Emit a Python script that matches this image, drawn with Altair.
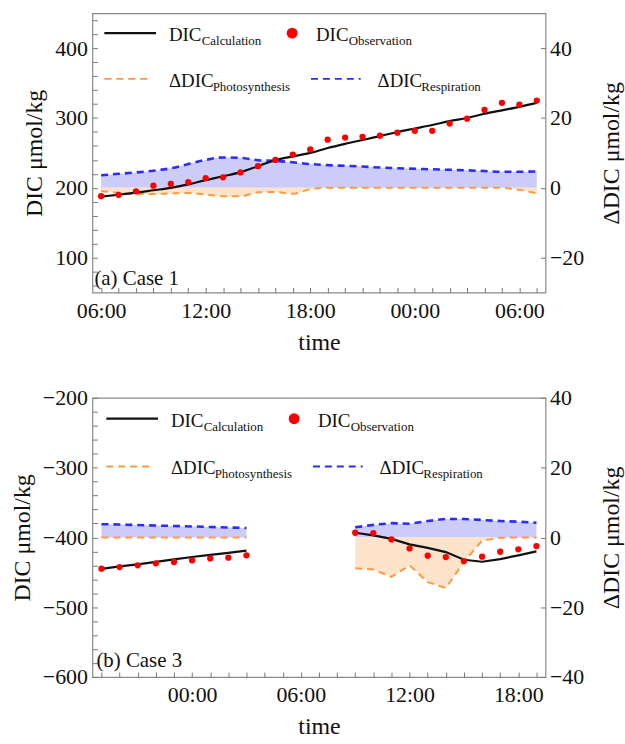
import altair as alt
import pandas as pd

FONT = "Liberation Serif"

# ---------------- Panel (a) Case 1 : hours counted from 00:00 of day 1 ----------------
hours_a = [6, 7, 8, 9, 10, 11, 12, 13, 14, 15, 16, 17, 18, 19, 20, 21, 22, 23, 24, 25, 26, 27, 28, 29, 30, 31]
calc_a = [187.4, 190, 193, 196.5, 200, 205, 211, 216.5, 222.4, 231, 239.6, 245, 250, 257, 263,
          268.5, 274, 280, 285, 290, 295.5, 300, 306, 311, 316, 321.7]
obs_a = [188, 190, 195, 203, 205.6, 208, 214, 215, 222, 231, 240, 247.5, 255, 269, 272, 273,
         274.6, 279, 281.6, 281.6, 292, 299, 311.5, 321.7, 319, 325]
photo_a = [-1.0, -1.4, -1.8, -1.8, -1.6, -1.5, -1.9, -2.4, -2.4, -1.3, -1.2, -1.7, -0.4, 0.0, 0.0,
           0.0, 0.0, 0.0, 0.0, 0.0, 0.0, 0.0, 0.0, 0.0, -0.6, -1.6]
resp_a = [3.6, 4.0, 4.4, 4.9, 5.6, 6.8, 8.0, 8.7, 8.6, 7.9, 7.7, 7.3, 6.8, 6.5, 6.3, 6.1, 5.8,
          5.6, 5.45, 5.3, 5.15, 5.0, 4.8, 4.6, 4.6, 4.7]

# ---------------- Panel (b) Case 3 : hours counted from 00:00 of day 2 ----------------
hours_b1 = [-5, -4, -3, -2, -1, 0, 1, 2, 3]
calc_b1 = [-445, -441.5, -438.5, -435, -431.5, -428, -425, -422, -419]
obs_b1 = [-444.8, -442.4, -440, -437.1, -435.2, -432.9, -430, -429, -425.7]
photo_b1 = [0.0, 0.0, 0.0, 0.0, 0.0, 0.0, 0.0, 0.0, 0.0]
resp_b1 = [3.8, 3.7, 3.55, 3.4, 3.3, 3.15, 3.0, 2.85, 2.7]

hours_b2 = [9, 10, 11, 12, 13, 14, 15, 16, 17, 18, 19]
calc_b2 = [-393.3, -397, -402, -410, -415, -421, -432, -434.8, -431, -425.7, -420]
obs_b2 = [-393.3, -393.8, -402.9, -415.7, -426.2, -428.1, -433.8, -427.6, -420.5, -417.1, -412.4]
photo_b2 = [-8.8, -9.2, -11.3, -8.0, -12.8, -14.5, -7.0, -0.9, -0.1, 0.0, 0.0]
resp_b2 = [2.9, 3.6, 4.1, 3.9, 4.7, 5.3, 5.3, 5.0, 4.7, 4.5, 4.2]

# ---------------- styles ----------------
BLUE_FILL = "#ccccf9"
ORANGE_FILL = "#fde3ca"
BLUE = "#2b2bff"
ORANGE = "#ff9a3c"
W, H = 456, 281

df_a = pd.DataFrame({"h": hours_a, "seg": "a", "calc": calc_a, "obs": obs_a,
                     "photo": photo_a, "resp": resp_a})
df_b = pd.concat([
    pd.DataFrame({"h": hours_b1, "seg": "b1", "calc": calc_b1, "obs": obs_b1,
                  "photo": photo_b1, "resp": resp_b1}),
    pd.DataFrame({"h": hours_b2, "seg": "b2", "calc": calc_b2, "obs": obs_b2,
                  "photo": photo_b2, "resp": resp_b2}),
], ignore_index=True)

one = pd.DataFrame({"k": [0]})

HOUR_LABEL = ("datum.value % 6 == 0 ? "
              "((((datum.value % 24) + 24) % 24) < 10 ? '0' : '') + (((datum.value % 24) + 24) % 24) + ':00' : ''")
NUM_LABEL = "(datum.value < 0 ? '\u2212' : '') + abs(datum.value)"


def txt(x, y, s, size):
    return alt.Chart(one).mark_text(
        align="left", baseline="alphabetic", font=FONT, fontSize=size, color="#111111"
    ).encode(x=alt.value(x), y=alt.value(y), text=alt.value(s))


def leg_line(x1, x2, y, color, dash=None, width=2.0):
    kw = dict(color=color, strokeWidth=width)
    if dash:
        kw["strokeDash"] = dash
    return alt.Chart(one).mark_rule(**kw).encode(
        x=alt.value(x1), x2=alt.value(x2), y=alt.value(y))


def legend(dx, y1, y2):
    return [
        leg_line(12 + dx, 64 + dx, y1, "#111111", width=2.2),
        txt(77 + dx, y1 + 8, "DIC", 19),
        txt(110 + dx, y1 + 12, "Calculation", 13),
        alt.Chart(one).mark_circle(color="#ff0000", opacity=1, size=120).encode(
            x=alt.value(201 + dx), y=alt.value(y1)),
        txt(225 + dx, y1 + 8, "DIC", 19),
        txt(258 + dx, y1 + 12, "Observation", 13),
        leg_line(12 + dx, 60 + dx, y2, ORANGE, dash=[7, 5], width=2.0),
        txt(77 + dx, y2 + 8, "\u0394DIC", 19),
        txt(121 + dx, y2 + 12, "Photosynthesis", 13),
        leg_line(220 + dx, 270 + dx, y2, BLUE, dash=[7, 5], width=2.0),
        txt(287 + dx, y2 + 8, "\u0394DIC", 19),
        txt(331 + dx, y2 + 12, "Respiration", 13),
    ]


def panel(df, xdom, xvals, ldom, lvals, rdom, rvals, tag, tag_dx, tag_dy, leg_dx, leg_y1, leg_y2, interp):
    base = alt.Chart(df)
    x = alt.X("h:Q", scale=alt.Scale(domain=xdom, nice=False, zero=False),
              axis=alt.Axis(values=xvals, labelExpr=HOUR_LABEL, title="time", offset=-5,
                            tickSize=5, domain=False, labelPadding=8, titlePadding=9,
                            labelOverlap=False, labelFlush=False))
    lscale = alt.Scale(domain=ldom, nice=False, zero=False)
    laxis = alt.Axis(orient="left", values=lvals, title="DIC \u03bcmol/kg", offset=-5, tickSize=5,
                     domain=False, labelPadding=5, titlePadding=8, labelOverlap=False,
                     labelExpr="datum.value % 100 == 0 ? " + NUM_LABEL + " : ''")
    rscale = alt.Scale(domain=rdom, nice=False, zero=False)
    raxis = alt.Axis(orient="right", values=rvals, title="\u0394DIC \u03bcmol/kg", offset=-5,
                     tickSize=5, domain=False, labelPadding=4, titlePadding=16,
                     titleAngle=270, titleBaseline="top", labelOverlap=False, labelExpr=NUM_LABEL)

    right = alt.layer(
        base.mark_area(color=BLUE_FILL, opacity=1, interpolate=interp).encode(
            x=x, y=alt.Y("resp:Q", scale=rscale, axis=raxis), y2=alt.datum(0), detail="seg:N"),
        base.mark_area(color=ORANGE_FILL, opacity=1, interpolate=interp).encode(
            x=x, y=alt.Y("photo:Q", scale=rscale, axis=raxis), y2=alt.datum(0), detail="seg:N"),
        base.mark_line(color=ORANGE, strokeWidth=2.0, strokeDash=[7, 5], interpolate=interp).encode(
            x=x, y=alt.Y("photo:Q", scale=rscale, axis=raxis), detail="seg:N"),
        base.mark_line(color=BLUE, strokeWidth=2.6, strokeDash=[7, 5], interpolate=interp).encode(
            x=x, y=alt.Y("resp:Q", scale=rscale, axis=raxis), detail="seg:N"),
    )
    left = alt.layer(
        base.mark_line(color="#111111", strokeWidth=2.2, interpolate=interp).encode(
            x=x, y=alt.Y("calc:Q", scale=lscale, axis=laxis), detail="seg:N"),
        base.mark_circle(color="#ff0000", opacity=1, size=40).encode(
            x=x, y=alt.Y("obs:Q", scale=lscale, axis=laxis)),
    )
    tag_layer = alt.Chart(one).mark_text(
        align="left", baseline="alphabetic", font=FONT, fontSize=21, color="#111111"
    ).encode(x=alt.value(tag_dx), y=alt.value(H - tag_dy), text=alt.value(tag))

    return alt.layer(right, left, tag_layer, *legend(leg_dx, leg_y1, leg_y2)).resolve_scale(
        y="independent").properties(width=W, height=H)


p1 = panel(df_a, [5.5, 31.5], hours_a, [50, 450], list(range(60, 441, 20)),
           [-30, 50], [-20, 0, 20, 40], "(a) Case 1", 2, 8, 0, 20, 66, "monotone")
p2 = panel(df_b, [-5.5, 19.5], list(range(-5, 20)), [-600, -200], list(range(-600, -199, 20)),
           [-40, 40], [-40, -20, 0, 20, 40], "(b) Case 3", 4, 10, 2, 21, 69, "linear")

chart = alt.vconcat(p1, p2, spacing=106, bounds="flush").properties(
    padding={"left": 9, "top": 6, "right": 0, "bottom": 0}
).configure_view(
    stroke="#8a8a8a", strokeWidth=1.2
).configure_axis(
    labelFont=FONT, titleFont=FONT, labelFontSize=22, titleFontSize=24,
    labelColor="#111111", titleColor="#111111", tickColor="#777777",
    titleFontWeight="normal", grid=False
)

chart.save("out.html", embed_options={"renderer": "svg", "actions": False})
